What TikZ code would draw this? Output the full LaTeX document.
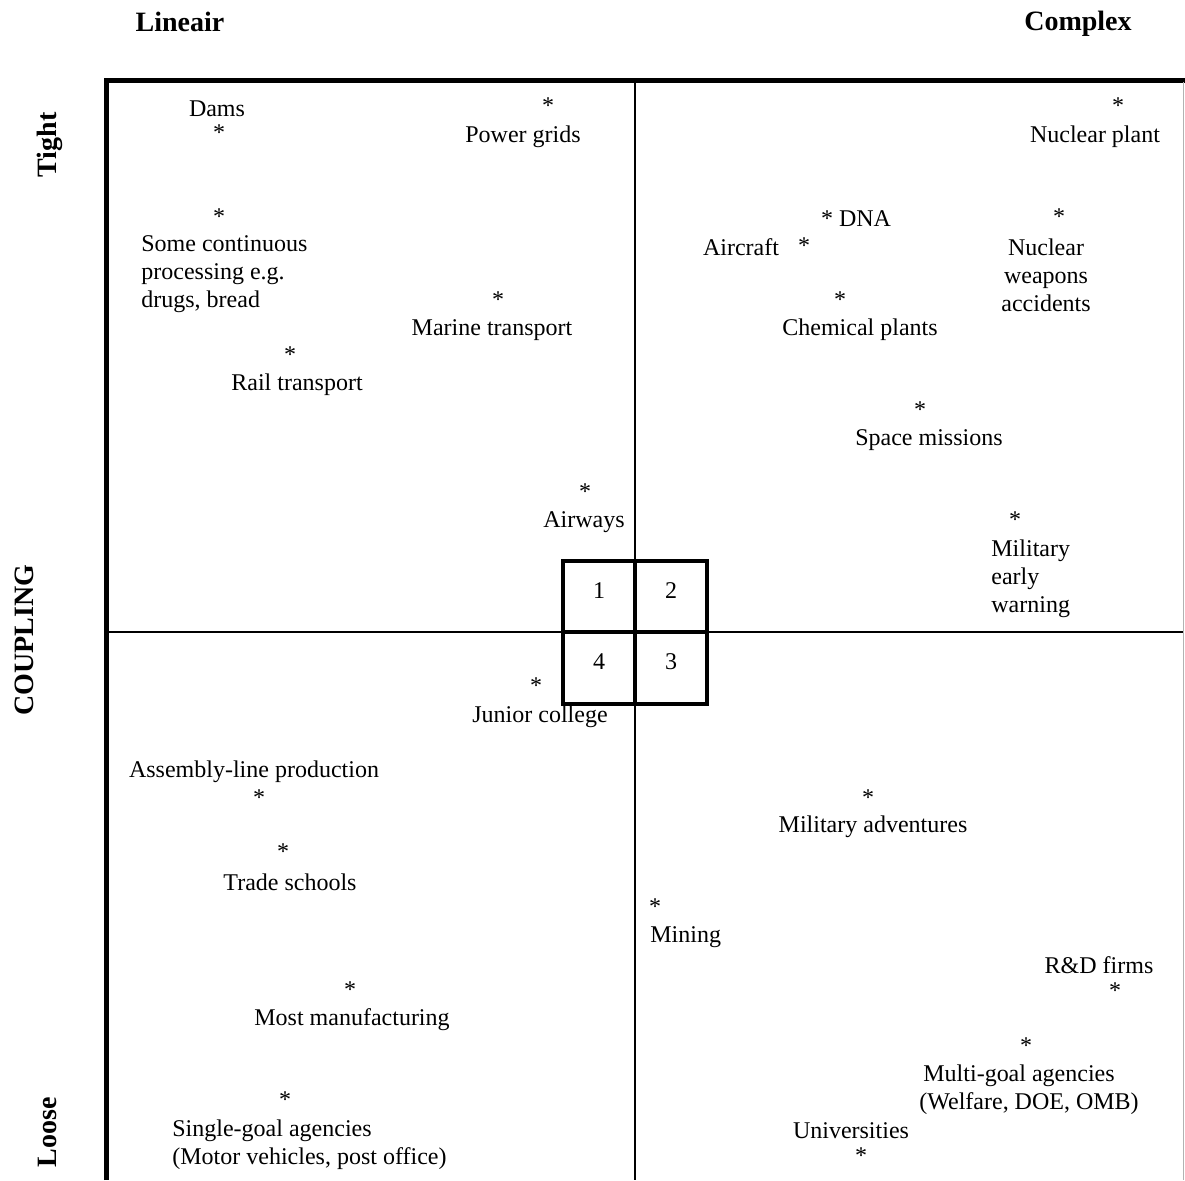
\documentclass[tikz,border=0pt]{standalone}
\usepackage{fontspec}
\setmainfont{Liberation Serif}
\usetikzlibrary{positioning}

\begin{document}
\begin{tikzpicture}[
  x=0.5pt, y=-0.5pt,
  every node/.style={inner sep=0pt, font=\fontsize{12}{14}\selectfont},
  system/.style={align=center, yshift=-1pt},
  leftsystem/.style={align=left, anchor=west, yshift=-1pt},
  star/.style={yshift=-1.5pt},
  axistitle/.style={font=\fontsize{14}{16}\selectfont\bfseries},
  frameline/.style={line width=2.5pt, line join=miter},
  divider/.style={line width=0.75pt},
  cellline/.style={line width=1.6pt}
]
\useasboundingbox (0,0) rectangle (1185,1180);

% axis titles
\node[axistitle] (lineair) at (180,22) {Lineair};
\node[axistitle] (complex) at (1078,24) {Complex};
\node[axistitle, rotate=90] (tight) at (50,145) {Tight};
\node[axistitle, rotate=90] (coupling) at (24,640) {COUPLING};
\node[axistitle, rotate=90] (loose) at (47,1132) {Loose};

% frame and quadrants
\draw[frameline] (106.5,1180) -- (106.5,80.5) -- (1185,80.5);
\draw[gray!60, line width=0.5pt] (1183.5,82) -- (1183.5,1180);
\draw[divider] (635,82) -- (635,1180);
\draw[divider] (108,632) -- (1183,632);

% central grid
\draw[cellline] (563,561) rectangle (707,704);
\draw[cellline] (635,561) -- (635,704);
\draw[cellline] (563,632) -- (707,632);
\node (q1) at (599,591) {1};
\node (q2) at (671,591) {2};
\node (q4) at (599,662) {4};
\node (q3) at (671,662) {3};

% linear, tight
\node[system] (dams) at (217,107) {Dams};
\node[star] (damsstar) at (219,130) {*};
\node[star] (gridsstar) at (548,103) {*};
\node[system] (grids) at (523,135) {Power grids};
\node[star] (procstar) at (219,214) {*};
\node[leftsystem] (proc) at (141,272) {Some continuous\\processing e.g.\\drugs, bread};
\node[star] (marinestar) at (498,297) {*};
\node[system] (marine) at (492,328) {Marine transport};
\node[star] (railstar) at (290,352) {*};
\node[system] (rail) at (297,383) {Rail transport};
\node[star] (airwaysstar) at (585,489) {*};
\node[system] (airways) at (584,520) {Airways};

% complex, tight
\node[star] (nuclearstar) at (1118,103) {*};
\node[system] (nuclear) at (1095,135) {Nuclear plant};
\node[star] (dnastar) at (827,216) {*};
\node[system] (dna) at (865,217) {DNA};
\node[system] (aircraft) at (741,245) {Aircraft};
\node[star] (aircraftstar) at (804,243) {*};
\node[star] (weaponsstar) at (1059,214) {*};
\node[system] (weapons) at (1046,273) {Nuclear\\weapons\\accidents};
\node[star] (chemstar) at (840,297) {*};
\node[system] (chem) at (860,328) {Chemical plants};
\node[star] (spacestar) at (920,407) {*};
\node[system] (space) at (929,438) {Space missions};
\node[star] (warningstar) at (1015,517) {*};
\node[leftsystem] (warning) at (991,577) {Military\\early\\warning};

% linear, loose
\node[star] (juniorstar) at (536,683) {*};
\node[system] (junior) at (540,715) {Junior college};
\node[system] (assembly) at (254,770) {Assembly-line production};
\node[star] (assemblystar) at (259,795) {*};
\node[star] (tradestar) at (283,849) {*};
\node[system] (trade) at (290,880) {Trade schools};
\node[star] (manufstar) at (350,987) {*};
\node[system] (manuf) at (352,1018) {Most manufacturing};
\node[star] (singlestar) at (285,1097) {*};
\node[leftsystem] (single) at (172,1143) {Single-goal agencies\\(Motor vehicles, post office)};

% complex, loose
\node[star] (adventstar) at (868,795) {*};
\node[system] (advent) at (873,825) {Military adventures};
\node[star] (miningstar) at (655,904) {*};
\node[leftsystem] (mining) at (650,935) {Mining};
\node[system] (rnd) at (1099,963) {R\&D firms};
\node[star] (rndstar) at (1115,988) {*};
\node[star] (multistar) at (1026,1043) {*};
\node[leftsystem] (multi) at (919,1088) {\,Multi-goal agencies\\(Welfare, DOE, OMB)};
\node[system] (univ) at (851,1129) {Universities};
\node[star] (univstar) at (861,1153) {*};
\end{tikzpicture}
\end{document}
